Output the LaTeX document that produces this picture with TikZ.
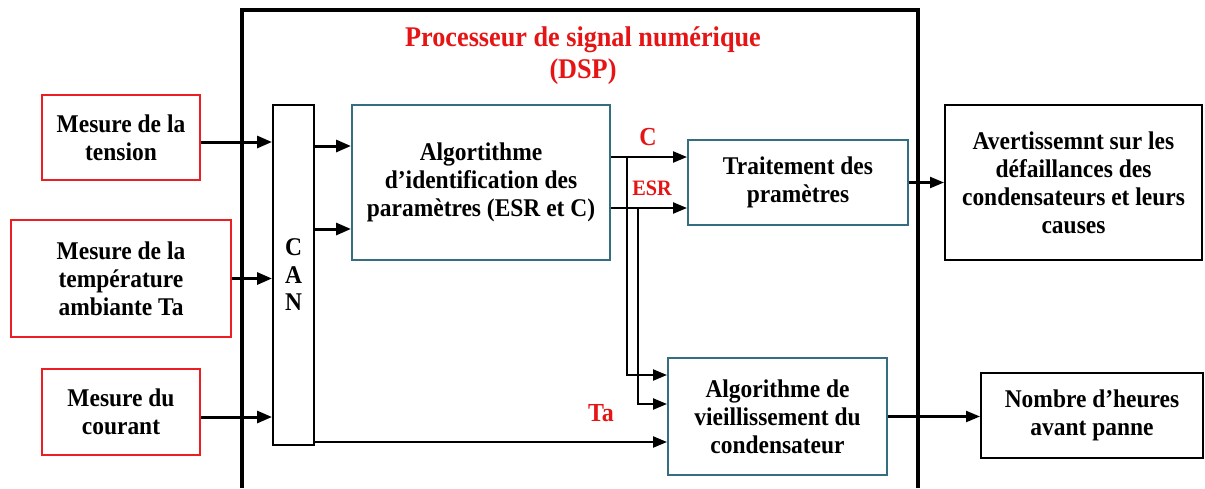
\documentclass[tikz,border=0pt]{standalone}
\usepackage{fontspec}
\setmainfont{Liberation Serif}[FakeStretch=0.92]
\usetikzlibrary{arrows.meta}
\definecolor{boxred}{RGB}{235,30,35}
\definecolor{tealb}{RGB}{52,110,128}
\definecolor{lblred}{RGB}{230,20,20}
\begin{document}
\begin{tikzpicture}[x=1pt,y=-1pt,
  txt/.style={font=\fontsize{25.5}{28}\selectfont\bfseries, align=center},
  box/.style={draw, line width=2pt, inner sep=0pt, txt},
  redbox/.style={box, draw=boxred},
  tealbox/.style={box, draw=tealb},
  blkbox/.style={box, draw=black},
  arr/.style={line width=2.2pt, -{Triangle[length=14pt,width=11pt]}},
  thickarr/.style={line width=3pt, -{Triangle[length=15pt,width=12pt]}},
  lbl/.style={text=lblred, font=\fontsize{26}{28}\selectfont\bfseries, inner sep=0pt}]
\useasboundingbox (0,0) rectangle (1205,488);
\fill[white] (0,0) rectangle (1205,488);
% DSP frame
\draw[line width=4pt] (242,488) -- (242,10) -- (918,10) -- (918,488);
\node[text=lblred, font=\fontsize{28.5}{32}\selectfont\bfseries, align=center] (title) at (583,56) {Processeur de signal numérique\\(DSP)};
% input boxes
\node[redbox, minimum width=158pt, minimum height=85pt] (ten) at (121,137.5) {Mesure de la\\tension};
\node[redbox, minimum width=220pt, minimum height=117pt] (temp) at (121,278.5) {Mesure de la\\température\\ambiante Ta};
\node[redbox, minimum width=158pt, minimum height=86pt] (cour) at (121,412) {Mesure du\\courant};
% CAN
\node[blkbox, minimum width=41pt, minimum height=340pt, font=\fontsize{25.5}{27.5}\selectfont\bfseries] (can) at (293.5,275) {C\\A\\N};
% processing
\node[tealbox, minimum width=258pt, minimum height=155pt] (ident) at (481,182.5) {Algortithme\\d’identification des\\paramètres (ESR et C)};
\node[tealbox, minimum width=220pt, minimum height=85pt] (trait) at (798,182.5) {Traitement des\\pramètres};
\node[tealbox, minimum width=219pt, minimum height=117pt] (vieil) at (777.5,416.5) {Algorithme de\\vieillissement du\\condensateur};
% outputs
\node[blkbox, minimum width=257pt, minimum height=155pt] (avert) at (1073.5,182.5) {Avertissemnt sur les\\défaillances des\\condensateurs et leurs\\causes};
\node[blkbox, minimum width=222pt, minimum height=85pt] (nombre) at (1092,415.5) {Nombre d’heures\\avant panne};
% input arrows
\draw[thickarr] ([yshift=-4.5pt]ten.east) -- ([yshift=-4.5pt]ten.east -| can.west);
\draw[thickarr] (temp.east) -- (temp.east -| can.west);
\draw[thickarr] ([yshift=-5pt]cour.east) -- ([yshift=-5pt]cour.east -| can.west);
% CAN to identification
\draw[thickarr] ([yshift=36.5pt]ident.west -| can.east) -- ([yshift=36.5pt]ident.west);
\draw[thickarr] ([yshift=-46.5pt]ident.west -| can.east) -- ([yshift=-46.5pt]ident.west);
% C and ESR
\draw[arr] ([yshift=25.5pt]ident.east) -- ([yshift=25.5pt]trait.west);
\draw[arr] ([yshift=-25.5pt]ident.east) -- ([yshift=-25.5pt]trait.west);
\draw[arr] ([xshift=16pt,yshift=25.5pt]ident.east) |- ([yshift=41.5pt]vieil.west);
\draw[arr] ([xshift=27pt,yshift=-25.5pt]ident.east) |- ([yshift=12.5pt]vieil.west);
% Ta
\draw[arr] ([yshift=-25.5pt]vieil.west -| can.east) -- ([yshift=-25.5pt]vieil.west);
% outputs
\draw[arr] (trait.east) -- (avert.west);
\draw[arr] (vieil.east) -- (vieil.east -| nombre.west);
% labels
\node[lbl] (lc) at (648,137) {C};
\node[lbl, font=\fontsize{22}{24}\selectfont\bfseries] (lesr) at (652,188) {ESR};
\node[lbl] (lta) at (601,413) {Ta};
\end{tikzpicture}
\end{document}
